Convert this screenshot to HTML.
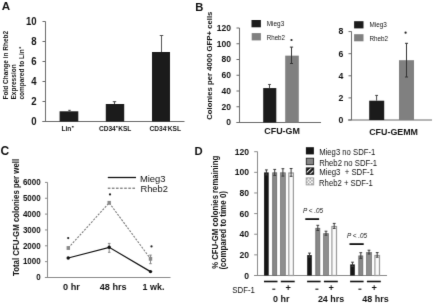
<!DOCTYPE html>
<html><head><meta charset="utf-8"><style>
html,body{margin:0;padding:0;background:#fff;}
body{width:440px;height:304px;overflow:hidden;}
svg{display:block;}
text{font-family:"Liberation Sans", sans-serif;fill:#111;}
</style></head><body>
<svg width="440" height="304" viewBox="0 0 440 304">
<filter id="bl" filterUnits="userSpaceOnUse" x="0" y="0" width="440" height="304" color-interpolation-filters="sRGB"><feConvolveMatrix order="3" kernelMatrix="0.00800 0.06400 0.00800 0.08400 0.67200 0.08400 0.00800 0.06400 0.00800" edgeMode="duplicate" preserveAlpha="true"/></filter>
<rect width="440" height="304" fill="#fff"/>
<g filter="url(#bl)">
<rect width="440" height="304" fill="#fff"/>
<defs>
<pattern id="hatch" patternUnits="userSpaceOnUse" width="2.5" height="2.5" patternTransform="rotate(45)">
<rect width="2.5" height="2.5" fill="#959595"/><rect width="1.2" height="2.5" fill="#828282"/></pattern>
<pattern id="hatchL" patternUnits="userSpaceOnUse" x="1.7" width="3.4" height="3.4" patternTransform="rotate(45)">
<rect width="3.4" height="3.4" fill="#111"/><rect width="1.1" height="3.4" fill="#eee"/></pattern>
<pattern id="dotsL" patternUnits="userSpaceOnUse" x="306" y="178" width="3.4" height="3.4">
<rect width="3.4" height="3.4" fill="#fff"/><rect width="1.7" height="1.7" fill="#aaa"/><rect x="1.7" y="1.7" width="1.7" height="1.7" fill="#aaa"/></pattern>
<pattern id="dots" patternUnits="userSpaceOnUse" width="2" height="2">
<rect width="2" height="2" fill="#fff"/><rect width="1" height="1" fill="#f3f3f3"/><rect x="1" y="1" width="1" height="1" fill="#f3f3f3"/></pattern>
</defs>
<text x="1.8" y="10.4" font-size="11.6" font-weight="bold" >A</text>
<line x1="45.5" y1="21.5" x2="45.5" y2="121.5" stroke="#6a6a6a" stroke-width="1" />
<line x1="42.5" y1="121.5" x2="45.5" y2="121.5" stroke="#6a6a6a" stroke-width="1" />
<text x="36.6" y="125.0" font-size="10.3" font-weight="bold" text-anchor="end" textLength="5.34" lengthAdjust="spacingAndGlyphs" >0</text>
<line x1="42.5" y1="101.5" x2="45.5" y2="101.5" stroke="#6a6a6a" stroke-width="1" />
<text x="36.6" y="105.0" font-size="10.3" font-weight="bold" text-anchor="end" textLength="5.34" lengthAdjust="spacingAndGlyphs" >2</text>
<line x1="42.5" y1="81.5" x2="45.5" y2="81.5" stroke="#6a6a6a" stroke-width="1" />
<text x="36.6" y="85.0" font-size="10.3" font-weight="bold" text-anchor="end" textLength="5.34" lengthAdjust="spacingAndGlyphs" >4</text>
<line x1="42.5" y1="61.5" x2="45.5" y2="61.5" stroke="#6a6a6a" stroke-width="1" />
<text x="36.6" y="65.0" font-size="10.3" font-weight="bold" text-anchor="end" textLength="5.34" lengthAdjust="spacingAndGlyphs" >6</text>
<line x1="42.5" y1="41.5" x2="45.5" y2="41.5" stroke="#6a6a6a" stroke-width="1" />
<text x="36.6" y="45.0" font-size="10.3" font-weight="bold" text-anchor="end" textLength="5.34" lengthAdjust="spacingAndGlyphs" >8</text>
<line x1="42.5" y1="21.5" x2="45.5" y2="21.5" stroke="#6a6a6a" stroke-width="1" />
<text x="36.6" y="25.0" font-size="10.3" font-weight="bold" text-anchor="end" textLength="10.68" lengthAdjust="spacingAndGlyphs" >10</text>
<line x1="42.5" y1="121.5" x2="184.5" y2="121.5" stroke="#6a6a6a" stroke-width="1" />
<rect x="59.6" y="111.3" width="18.7" height="10.2" fill="#1b1b1b" />
<line x1="69.5" y1="110.3" x2="69.5" y2="111.3" stroke="#444" stroke-width="1" />
<line x1="68.25" y1="110.3" x2="70.75" y2="110.3" stroke="#444" stroke-width="1" />
<rect x="105.8" y="104.0" width="18.4" height="17.5" fill="#1b1b1b" />
<line x1="114.5" y1="101.7" x2="114.5" y2="104.0" stroke="#444" stroke-width="1" />
<line x1="112.8" y1="101.7" x2="116.2" y2="101.7" stroke="#444" stroke-width="1" />
<rect x="152" y="52.0" width="18" height="69.5" fill="#1b1b1b" />
<line x1="161.5" y1="35.5" x2="161.5" y2="52.0" stroke="#555" stroke-width="1" />
<line x1="159.75" y1="35.5" x2="163.25" y2="35.5" stroke="#555" stroke-width="1" />
<text x="61.4" y="130.6" font-size="6.6" font-weight="bold">Lin</text>
<rect x="71.9" y="126.0" width="1.7" height="1.5" fill="#333" />
<text x="98.9" y="130.6" font-size="6.6" font-weight="bold" >CD34</text>
<text x="118.2" y="130.6" font-size="6.6" font-weight="bold" >KSL</text>
<rect x="116.0" y="126.0" width="1.6" height="1.5" fill="#333" />
<text x="149.5" y="130.6" font-size="6.6" font-weight="bold" >CD34</text>
<text x="167.8" y="130.6" font-size="6.6" font-weight="bold" >KSL</text>
<rect x="166.1" y="126.6" width="1.6" height="0.9" fill="#666" />
<text x="0" y="0" transform="translate(7.8,99.6) rotate(-90)" font-size="6.5" font-weight="bold" textLength="68.8" lengthAdjust="spacingAndGlyphs">Fold Change in Rheb2</text>
<text x="0" y="0" transform="translate(15.9,99.6) rotate(-90)" font-size="6.5" font-weight="bold" textLength="35.3" lengthAdjust="spacingAndGlyphs">Expression</text>
<text x="0" y="0" transform="translate(24.1,99.6) rotate(-90)" font-size="6.5" font-weight="bold" textLength="50.4" lengthAdjust="spacingAndGlyphs">compared to Lin</text>
<rect x="19.3" y="46.9" width="1.5" height="1.6" fill="#333" />
<text x="195.3" y="11.2" font-size="11.2" font-weight="bold" >B</text>
<text x="0" y="0" transform="translate(212.2,119.8) rotate(-90)" font-size="8.1" font-weight="bold" textLength="108.2" lengthAdjust="spacingAndGlyphs">Colonies per 4000 GFP+ cells</text>
<line x1="239.5" y1="28" x2="239.5" y2="122.5" stroke="#6a6a6a" stroke-width="1" />
<line x1="236.5" y1="122.5" x2="239.5" y2="122.5" stroke="#6a6a6a" stroke-width="1" />
<text x="231.1" y="125.3" font-size="9.8" font-weight="bold" text-anchor="end" textLength="4.75" lengthAdjust="spacingAndGlyphs" >0</text>
<line x1="236.5" y1="106.75" x2="239.5" y2="106.75" stroke="#6a6a6a" stroke-width="1" />
<text x="231.1" y="109.55" font-size="9.8" font-weight="bold" text-anchor="end" textLength="9.5" lengthAdjust="spacingAndGlyphs" >20</text>
<line x1="236.5" y1="91.0" x2="239.5" y2="91.0" stroke="#6a6a6a" stroke-width="1" />
<text x="231.1" y="93.8" font-size="9.8" font-weight="bold" text-anchor="end" textLength="9.5" lengthAdjust="spacingAndGlyphs" >40</text>
<line x1="236.5" y1="75.25" x2="239.5" y2="75.25" stroke="#6a6a6a" stroke-width="1" />
<text x="231.1" y="78.05" font-size="9.8" font-weight="bold" text-anchor="end" textLength="9.5" lengthAdjust="spacingAndGlyphs" >60</text>
<line x1="236.5" y1="59.5" x2="239.5" y2="59.5" stroke="#6a6a6a" stroke-width="1" />
<text x="231.1" y="62.3" font-size="9.8" font-weight="bold" text-anchor="end" textLength="9.5" lengthAdjust="spacingAndGlyphs" >80</text>
<line x1="236.5" y1="43.75" x2="239.5" y2="43.75" stroke="#6a6a6a" stroke-width="1" />
<text x="231.1" y="46.55" font-size="9.8" font-weight="bold" text-anchor="end" textLength="14.25" lengthAdjust="spacingAndGlyphs" >100</text>
<line x1="236.5" y1="28.0" x2="239.5" y2="28.0" stroke="#6a6a6a" stroke-width="1" />
<text x="231.1" y="30.8" font-size="9.8" font-weight="bold" text-anchor="end" textLength="14.25" lengthAdjust="spacingAndGlyphs" >120</text>
<line x1="236.6" y1="122.5" x2="321" y2="122.5" stroke="#6a6a6a" stroke-width="1" />
<rect x="263.2" y="88.08625" width="13.1" height="34.41375" fill="#1b1b1b" />
<line x1="269.5" y1="84.46375" x2="269.5" y2="88.08625" stroke="#444" stroke-width="1" />
<line x1="268.1" y1="84.46375" x2="270.9" y2="84.46375" stroke="#444" stroke-width="1" />
<rect x="285.2" y="55.64125" width="13.6" height="66.85875" fill="#808080" />
<line x1="291.5" y1="47.1" x2="291.5" y2="63.5" stroke="#333" stroke-width="1" />
<line x1="289.9" y1="47.1" x2="293.1" y2="47.1" stroke="#333" stroke-width="1" />
<line x1="290" y1="63.5" x2="293" y2="63.5" stroke="#333" stroke-width="1" />
<circle cx="291.5" cy="40" r="1.1" fill="#222"/>
<rect x="251.5" y="20" width="9.4" height="7.3" fill="#1b1b1b" />
<rect x="251.7" y="33.1" width="9.2" height="7.3" fill="#808080" />
<text x="266.8" y="26.2" font-size="7.6" textLength="17.4" lengthAdjust="spacingAndGlyphs" >Mieg3</text>
<text x="266.8" y="40.1" font-size="7.6" textLength="18.2" lengthAdjust="spacingAndGlyphs" >Rheb2</text>
<text x="264.3" y="134.4" font-size="9" font-weight="bold" textLength="35.6" lengthAdjust="spacingAndGlyphs" >CFU-GM</text>
<line x1="351.5" y1="31.4" x2="351.5" y2="120.0" stroke="#6a6a6a" stroke-width="1" />
<line x1="348.5" y1="120.0" x2="351.5" y2="120.0" stroke="#6a6a6a" stroke-width="1" />
<text x="343.4" y="122.8" font-size="9.8" font-weight="bold" text-anchor="end" textLength="4.85" lengthAdjust="spacingAndGlyphs" >0</text>
<line x1="348.5" y1="97.9" x2="351.5" y2="97.9" stroke="#6a6a6a" stroke-width="1" />
<text x="343.4" y="100.7" font-size="9.8" font-weight="bold" text-anchor="end" textLength="4.85" lengthAdjust="spacingAndGlyphs" >2</text>
<line x1="348.5" y1="75.8" x2="351.5" y2="75.8" stroke="#6a6a6a" stroke-width="1" />
<text x="343.4" y="78.6" font-size="9.8" font-weight="bold" text-anchor="end" textLength="4.85" lengthAdjust="spacingAndGlyphs" >4</text>
<line x1="348.5" y1="53.69999999999999" x2="351.5" y2="53.69999999999999" stroke="#6a6a6a" stroke-width="1" />
<text x="343.4" y="56.499999999999986" font-size="9.8" font-weight="bold" text-anchor="end" textLength="4.85" lengthAdjust="spacingAndGlyphs" >6</text>
<line x1="348.5" y1="31.599999999999994" x2="351.5" y2="31.599999999999994" stroke="#6a6a6a" stroke-width="1" />
<text x="343.4" y="34.39999999999999" font-size="9.8" font-weight="bold" text-anchor="end" textLength="4.85" lengthAdjust="spacingAndGlyphs" >8</text>
<line x1="348" y1="120.0" x2="432" y2="120.0" stroke="#6a6a6a" stroke-width="1" />
<rect x="369.2" y="100.7" width="15" height="19.299999999999997" fill="#1b1b1b" />
<line x1="376.6" y1="95.4" x2="376.6" y2="100.7" stroke="#444" stroke-width="1" />
<line x1="375.20000000000005" y1="95.4" x2="378.0" y2="95.4" stroke="#444" stroke-width="1" />
<rect x="399" y="60.2" width="15" height="59.8" fill="#808080" />
<line x1="406.5" y1="43.3" x2="406.5" y2="77" stroke="#333" stroke-width="1" />
<line x1="405.0" y1="43.3" x2="408.0" y2="43.3" stroke="#333" stroke-width="1" />
<line x1="405" y1="77" x2="408" y2="77" stroke="#333" stroke-width="1" />
<circle cx="405.6" cy="32.7" r="1.1" fill="#222"/>
<rect x="354.1" y="21.2" width="9.4" height="7.2" fill="#1b1b1b" />
<rect x="354.1" y="34.2" width="9.4" height="7.1" fill="#808080" />
<text x="369.4" y="27" font-size="7.6" textLength="17.4" lengthAdjust="spacingAndGlyphs" >Mieg3</text>
<text x="369.4" y="41.2" font-size="7.6" textLength="18.6" lengthAdjust="spacingAndGlyphs" >Rheb2</text>
<text x="369.2" y="134.6" font-size="9" font-weight="bold" textLength="48.8" lengthAdjust="spacingAndGlyphs" >CFU-GEMM</text>
<text x="0.6" y="155.2" font-size="12" font-weight="bold" textLength="8.7" lengthAdjust="spacingAndGlyphs" >C</text>
<text x="0" y="0" transform="translate(19.0,276.0) rotate(-90)" font-size="8.2" font-weight="bold" textLength="117.2" lengthAdjust="spacingAndGlyphs">Total CFU-GM colonies per well</text>
<line x1="47.5" y1="182.4" x2="47.5" y2="277.5" stroke="#8a8a8a" stroke-width="1" />
<line x1="45" y1="277.5" x2="47.5" y2="277.5" stroke="#8a8a8a" stroke-width="1" />
<text x="40.7" y="280.3" font-size="9.6" font-weight="bold" text-anchor="end" textLength="4.45" lengthAdjust="spacingAndGlyphs" >0</text>
<line x1="45" y1="261.65" x2="47.5" y2="261.65" stroke="#8a8a8a" stroke-width="1" />
<text x="40.7" y="264.45" font-size="9.6" font-weight="bold" text-anchor="end" textLength="17.8" lengthAdjust="spacingAndGlyphs" >1000</text>
<line x1="45" y1="245.8" x2="47.5" y2="245.8" stroke="#8a8a8a" stroke-width="1" />
<text x="40.7" y="248.60000000000002" font-size="9.6" font-weight="bold" text-anchor="end" textLength="17.8" lengthAdjust="spacingAndGlyphs" >2000</text>
<line x1="45" y1="229.95" x2="47.5" y2="229.95" stroke="#8a8a8a" stroke-width="1" />
<text x="40.7" y="232.75" font-size="9.6" font-weight="bold" text-anchor="end" textLength="17.8" lengthAdjust="spacingAndGlyphs" >3000</text>
<line x1="45" y1="214.1" x2="47.5" y2="214.1" stroke="#8a8a8a" stroke-width="1" />
<text x="40.7" y="216.9" font-size="9.6" font-weight="bold" text-anchor="end" textLength="17.8" lengthAdjust="spacingAndGlyphs" >4000</text>
<line x1="45" y1="198.25" x2="47.5" y2="198.25" stroke="#8a8a8a" stroke-width="1" />
<text x="40.7" y="201.05" font-size="9.6" font-weight="bold" text-anchor="end" textLength="17.8" lengthAdjust="spacingAndGlyphs" >5000</text>
<line x1="45" y1="182.4" x2="47.5" y2="182.4" stroke="#8a8a8a" stroke-width="1" />
<text x="40.7" y="185.20000000000002" font-size="9.6" font-weight="bold" text-anchor="end" textLength="17.8" lengthAdjust="spacingAndGlyphs" >6000</text>
<line x1="44.9" y1="277.5" x2="170.5" y2="277.5" stroke="#8a8a8a" stroke-width="1" />
<line x1="107.8" y1="177.5" x2="136" y2="177.5" stroke="#111" stroke-width="1.3" />
<line x1="107.8" y1="188.2" x2="136.4" y2="188.2" stroke="#555" stroke-width="1" stroke-dasharray="2.6 1.5"/>
<text x="139.9" y="181.6" font-size="9.4" textLength="25.6" lengthAdjust="spacingAndGlyphs" >Mieg3</text>
<text x="140.4" y="191.6" font-size="9.4" textLength="27.6" lengthAdjust="spacingAndGlyphs" >Rheb2</text>
<polyline points="68.3,248 109.2,202.8 150.5,258.8" fill="none" stroke="#747474" stroke-width="1.05" stroke-dasharray="2.1 1.3"/>
<polyline points="68.2,258 109.2,247.3 150.5,271.6" fill="none" stroke="#111" stroke-width="1.25"/>
<line x1="109.2" y1="243.4" x2="109.2" y2="252.3" stroke="#888" stroke-width="1" />
<line x1="107.9" y1="243.4" x2="110.5" y2="243.4" stroke="#888" stroke-width="1" />
<line x1="108" y1="252.3" x2="110.5" y2="252.3" stroke="#888" stroke-width="1" />
<line x1="150.5" y1="255.1" x2="150.5" y2="263.7" stroke="#888" stroke-width="1" />
<line x1="149.2" y1="255.1" x2="151.8" y2="255.1" stroke="#888" stroke-width="1" />
<line x1="149.2" y1="263.7" x2="151.8" y2="263.7" stroke="#888" stroke-width="1" />
<rect x="66.6" y="246.1" width="3.4" height="3.8" fill="#888" />
<rect x="107.5" y="200.9" width="3.4" height="3.8" fill="#888" />
<rect x="148.8" y="256.90000000000003" width="3.4" height="3.8" fill="#888" />
<circle cx="68.2" cy="258" r="1.7" fill="#111"/>
<circle cx="109.2" cy="247.3" r="1.7" fill="#111"/>
<circle cx="150.5" cy="271.6" r="1.7" fill="#111"/>
<circle cx="68.2" cy="238.1" r="1.1" fill="#222"/>
<circle cx="110" cy="194.4" r="1.1" fill="#222"/>
<circle cx="151.5" cy="246.4" r="1.1" fill="#222"/>
<text x="63.1" y="290.1" font-size="9.3" font-weight="bold" textLength="16.8" lengthAdjust="spacingAndGlyphs" >0 hr</text>
<text x="99.8" y="290.1" font-size="9.3" font-weight="bold" textLength="26.8" lengthAdjust="spacingAndGlyphs" >48 hrs</text>
<text x="142.6" y="290.1" font-size="9.3" font-weight="bold" textLength="21.8" lengthAdjust="spacingAndGlyphs" >1 wk.</text>
<text x="194.6" y="155.3" font-size="11.3" font-weight="bold" >D</text>
<text x="0" y="0" transform="translate(217.7,268.8) rotate(-90)" font-size="8.2" font-weight="bold" textLength="113" lengthAdjust="spacingAndGlyphs">% CFU-GM colonies remaining</text>
<text x="0" y="0" transform="translate(226.0,269.6) rotate(-90)" font-size="8.2" font-weight="bold" textLength="78.6" lengthAdjust="spacingAndGlyphs">(compared to time 0)</text>
<line x1="257.5" y1="151.6" x2="257.5" y2="275.5" stroke="#8a8a8a" stroke-width="1" />
<line x1="254.2" y1="275.5" x2="257.5" y2="275.5" stroke="#8a8a8a" stroke-width="1" />
<text x="249.0" y="278.6" font-size="9.6" font-weight="bold" text-anchor="end" textLength="4.78" lengthAdjust="spacingAndGlyphs" >0</text>
<line x1="254.2" y1="254.86599999999999" x2="257.5" y2="254.86599999999999" stroke="#8a8a8a" stroke-width="1" />
<text x="249.0" y="257.966" font-size="9.6" font-weight="bold" text-anchor="end" textLength="9.56" lengthAdjust="spacingAndGlyphs" >20</text>
<line x1="254.2" y1="234.232" x2="257.5" y2="234.232" stroke="#8a8a8a" stroke-width="1" />
<text x="249.0" y="237.332" font-size="9.6" font-weight="bold" text-anchor="end" textLength="9.56" lengthAdjust="spacingAndGlyphs" >40</text>
<line x1="254.2" y1="213.598" x2="257.5" y2="213.598" stroke="#8a8a8a" stroke-width="1" />
<text x="249.0" y="216.698" font-size="9.6" font-weight="bold" text-anchor="end" textLength="9.56" lengthAdjust="spacingAndGlyphs" >60</text>
<line x1="254.2" y1="192.964" x2="257.5" y2="192.964" stroke="#8a8a8a" stroke-width="1" />
<text x="249.0" y="196.064" font-size="9.6" font-weight="bold" text-anchor="end" textLength="9.56" lengthAdjust="spacingAndGlyphs" >80</text>
<line x1="254.2" y1="172.32999999999998" x2="257.5" y2="172.32999999999998" stroke="#8a8a8a" stroke-width="1" />
<text x="249.0" y="175.42999999999998" font-size="9.6" font-weight="bold" text-anchor="end" textLength="14.34" lengthAdjust="spacingAndGlyphs" >100</text>
<line x1="254.2" y1="151.696" x2="257.5" y2="151.696" stroke="#8a8a8a" stroke-width="1" />
<text x="249.0" y="154.796" font-size="9.6" font-weight="bold" text-anchor="end" textLength="14.34" lengthAdjust="spacingAndGlyphs" >120</text>
<line x1="254.2" y1="275.5" x2="387" y2="275.5" stroke="#8a8a8a" stroke-width="1" />
<rect x="264.09999999999997" y="172.4" width="4.6" height="103.1" fill="#151515" />
<line x1="266.4" y1="169.9" x2="266.4" y2="174.9" stroke="#3a3a3a" stroke-width="1" />
<line x1="265.0" y1="169.9" x2="267.79999999999995" y2="169.9" stroke="#3a3a3a" stroke-width="1" />
<line x1="265.0" y1="174.9" x2="267.79999999999995" y2="174.9" stroke="#3a3a3a" stroke-width="1" />
<rect x="272.7" y="172.8" width="4.0" height="102.69999999999999" fill="#888888" stroke="#666" stroke-width="0.8" />
<line x1="274.7" y1="169.4" x2="274.7" y2="175.4" stroke="#3a3a3a" stroke-width="1" />
<line x1="273.3" y1="169.4" x2="276.09999999999997" y2="169.4" stroke="#3a3a3a" stroke-width="1" />
<line x1="273.3" y1="175.4" x2="276.09999999999997" y2="175.4" stroke="#3a3a3a" stroke-width="1" />
<rect x="280.49999999999994" y="172.8" width="4.8" height="102.69999999999999" fill="#8e8e8e" stroke="#747474" stroke-width="0.8" />
<line x1="282.9" y1="168.7" x2="282.9" y2="176.10000000000002" stroke="#3a3a3a" stroke-width="1" />
<line x1="281.5" y1="168.7" x2="284.29999999999995" y2="168.7" stroke="#3a3a3a" stroke-width="1" />
<line x1="281.5" y1="176.10000000000002" x2="284.29999999999995" y2="176.10000000000002" stroke="#3a3a3a" stroke-width="1" />
<rect x="288.8" y="173.0" width="4.6" height="102.5" fill="#fbfbfb" stroke="#999" stroke-width="1.2" />
<line x1="291.09999999999997" y1="168.5" x2="291.09999999999997" y2="176.3" stroke="#3a3a3a" stroke-width="1" />
<line x1="289.7" y1="168.5" x2="292.49999999999994" y2="168.5" stroke="#3a3a3a" stroke-width="1" />
<line x1="289.7" y1="176.3" x2="292.49999999999994" y2="176.3" stroke="#3a3a3a" stroke-width="1" />
<line x1="263.99999999999994" y1="281.5" x2="277.49999999999994" y2="281.5" stroke="#111" stroke-width="1.6" />
<line x1="280.79999999999995" y1="281.5" x2="294.7" y2="281.5" stroke="#111" stroke-width="1.6" />
<line x1="272.29999999999995" y1="289.2" x2="275.29999999999995" y2="289.2" stroke="#222" stroke-width="1.2" />
<text x="288.09999999999997" y="291.2" font-size="9.2" font-weight="bold" text-anchor="middle" >+</text>
<rect x="307.2" y="255.1" width="4.6" height="20.400000000000006" fill="#151515" />
<line x1="309.5" y1="253.1" x2="309.5" y2="257.1" stroke="#3a3a3a" stroke-width="1" />
<line x1="308.1" y1="253.1" x2="310.9" y2="253.1" stroke="#3a3a3a" stroke-width="1" />
<line x1="308.1" y1="257.1" x2="310.9" y2="257.1" stroke="#3a3a3a" stroke-width="1" />
<rect x="315.8" y="228.3" width="4.0" height="47.199999999999996" fill="#888888" stroke="#666" stroke-width="0.8" />
<line x1="317.8" y1="225.3" x2="317.8" y2="230.5" stroke="#3a3a3a" stroke-width="1" />
<line x1="316.40000000000003" y1="225.3" x2="319.2" y2="225.3" stroke="#3a3a3a" stroke-width="1" />
<line x1="316.40000000000003" y1="230.5" x2="319.2" y2="230.5" stroke="#3a3a3a" stroke-width="1" />
<rect x="323.59999999999997" y="233.6" width="4.8" height="41.90000000000001" fill="#8e8e8e" stroke="#747474" stroke-width="0.8" />
<line x1="326.0" y1="231.2" x2="326.0" y2="235.2" stroke="#3a3a3a" stroke-width="1" />
<line x1="324.6" y1="231.2" x2="327.4" y2="231.2" stroke="#3a3a3a" stroke-width="1" />
<line x1="324.6" y1="235.2" x2="327.4" y2="235.2" stroke="#3a3a3a" stroke-width="1" />
<rect x="331.90000000000003" y="226.5" width="4.6" height="48.99999999999999" fill="#fbfbfb" stroke="#999" stroke-width="1.2" />
<line x1="334.2" y1="223.4" x2="334.2" y2="228.4" stroke="#3a3a3a" stroke-width="1" />
<line x1="332.8" y1="223.4" x2="335.59999999999997" y2="223.4" stroke="#3a3a3a" stroke-width="1" />
<line x1="332.8" y1="228.4" x2="335.59999999999997" y2="228.4" stroke="#3a3a3a" stroke-width="1" />
<line x1="307.09999999999997" y1="281.5" x2="320.59999999999997" y2="281.5" stroke="#111" stroke-width="1.6" />
<line x1="323.9" y1="281.5" x2="337.8" y2="281.5" stroke="#111" stroke-width="1.6" />
<line x1="315.4" y1="289.2" x2="318.4" y2="289.2" stroke="#222" stroke-width="1.2" />
<text x="331.2" y="291.2" font-size="9.2" font-weight="bold" text-anchor="middle" >+</text>
<rect x="350.2" y="264.4" width="4.6" height="11.100000000000023" fill="#151515" />
<line x1="352.5" y1="262.2" x2="352.5" y2="266.59999999999997" stroke="#3a3a3a" stroke-width="1" />
<line x1="351.1" y1="262.2" x2="353.9" y2="262.2" stroke="#3a3a3a" stroke-width="1" />
<line x1="351.1" y1="266.59999999999997" x2="353.9" y2="266.59999999999997" stroke="#3a3a3a" stroke-width="1" />
<rect x="358.8" y="255.9" width="4.0" height="19.6" fill="#888888" stroke="#666" stroke-width="0.8" />
<line x1="360.8" y1="252.7" x2="360.8" y2="258.3" stroke="#3a3a3a" stroke-width="1" />
<line x1="359.40000000000003" y1="252.7" x2="362.2" y2="252.7" stroke="#3a3a3a" stroke-width="1" />
<line x1="359.40000000000003" y1="258.3" x2="362.2" y2="258.3" stroke="#3a3a3a" stroke-width="1" />
<rect x="366.59999999999997" y="252.5" width="4.8" height="23.000000000000007" fill="#8e8e8e" stroke="#747474" stroke-width="0.8" />
<line x1="369.0" y1="250.2" x2="369.0" y2="254.0" stroke="#3a3a3a" stroke-width="1" />
<line x1="367.6" y1="250.2" x2="370.4" y2="250.2" stroke="#3a3a3a" stroke-width="1" />
<line x1="367.6" y1="254.0" x2="370.4" y2="254.0" stroke="#3a3a3a" stroke-width="1" />
<rect x="374.90000000000003" y="255.5" width="4.6" height="19.999999999999993" fill="#fbfbfb" stroke="#999" stroke-width="1.2" />
<line x1="377.2" y1="252.6" x2="377.2" y2="257.20000000000005" stroke="#3a3a3a" stroke-width="1" />
<line x1="375.8" y1="252.6" x2="378.59999999999997" y2="252.6" stroke="#3a3a3a" stroke-width="1" />
<line x1="375.8" y1="257.20000000000005" x2="378.59999999999997" y2="257.20000000000005" stroke="#3a3a3a" stroke-width="1" />
<line x1="350.09999999999997" y1="281.5" x2="363.59999999999997" y2="281.5" stroke="#111" stroke-width="1.6" />
<line x1="366.9" y1="281.5" x2="380.8" y2="281.5" stroke="#111" stroke-width="1.6" />
<line x1="358.4" y1="289.2" x2="361.4" y2="289.2" stroke="#222" stroke-width="1.2" />
<text x="374.2" y="291.2" font-size="9.2" font-weight="bold" text-anchor="middle" >+</text>
<rect x="305.9" y="147.2" width="8" height="7.2" fill="#151515" />
<rect x="306.3" y="158.2" width="7.3" height="6.5" fill="#858585" stroke="#222" stroke-width="0.9" />
<rect x="306.3" y="167.9" width="7.4" height="6.4" fill="url(#hatchL)" stroke="#111" stroke-width="0.9" />
<rect x="306.2" y="177.9" width="7.5" height="7.0" fill="url(#dotsL)" stroke="#999" stroke-width="0.9" />
<text x="319.2" y="154.8" font-size="8.2" textLength="56.1" lengthAdjust="spacingAndGlyphs" >Mieg3 no SDF-1</text>
<text x="319.2" y="165.6" font-size="8.2" textLength="57.9" lengthAdjust="spacingAndGlyphs" >Rheb2 no SDF-1</text>
<text x="319.2" y="175.2" font-size="8.2" textLength="54.7" lengthAdjust="spacingAndGlyphs" >Mieg3 &#160;+ SDF-1</text>
<text x="319.0" y="185.8" font-size="8.2" textLength="53.9" lengthAdjust="spacingAndGlyphs" >Rheb2 + SDF-1</text>
<text x="302.9" y="212.6" font-size="7.6" font-style="italic" textLength="20.2" lengthAdjust="spacingAndGlyphs" >P &lt; .05</text>
<line x1="305.3" y1="219.1" x2="319.1" y2="219.1" stroke="#111" stroke-width="1.8" />
<text x="346.9" y="237.9" font-size="7.6" font-style="italic" textLength="20.2" lengthAdjust="spacingAndGlyphs" >P &lt; .05</text>
<line x1="349.5" y1="244.1" x2="363.7" y2="244.1" stroke="#111" stroke-width="1.8" />
<text x="232.3" y="292.6" font-size="8.6" textLength="22.6" lengthAdjust="spacingAndGlyphs" >SDF-1</text>
<text x="273.1" y="302.1" font-size="9.3" font-weight="bold" textLength="16.4" lengthAdjust="spacingAndGlyphs" >0 hr</text>
<text x="317.9" y="302.1" font-size="9.3" font-weight="bold" textLength="26.2" lengthAdjust="spacingAndGlyphs" >24 hrs</text>
<text x="362.3" y="302.1" font-size="9.3" font-weight="bold" textLength="26.4" lengthAdjust="spacingAndGlyphs" >48 hrs</text>
</g>
</svg></body></html>
